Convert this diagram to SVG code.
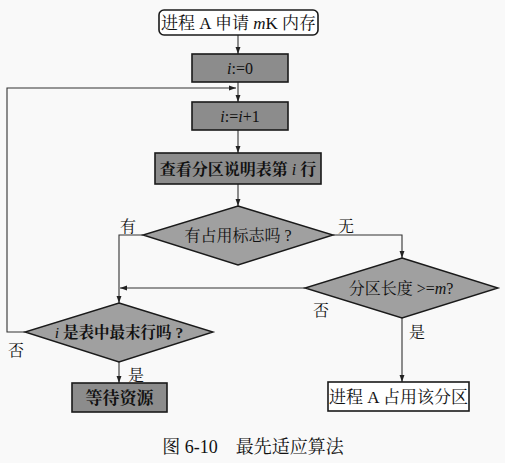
<svg xmlns="http://www.w3.org/2000/svg" width="505" height="463" viewBox="0 0 505 463">
  <style>
    text { font-family: "Liberation Serif", "Noto Serif CJK SC", "Noto Sans CJK SC", serif; fill: #111; }
    .lbl { font-size: 16px; }
    .box { fill: #8c8c8c; stroke: #1a1a1a; stroke-width: 1.6; }
    .dia { fill: #a0a0a0; stroke: #1a1a1a; stroke-width: 1.4; }
    .plain { fill: #fff; stroke: #1a1a1a; stroke-width: 1.6; }
    .edge { fill: none; stroke: #333; stroke-width: 1.1; }
    .b { font-weight: bold; }
  </style>
  <defs>
    <marker id="arr" viewBox="0 0 10 10" refX="10" refY="5" markerWidth="7" markerHeight="7" orient="auto" markerUnits="userSpaceOnUse">
      <path d="M0,1.5 L10,5 L0,8.5 Z" fill="#222"/>
    </marker>
  </defs>
  <rect width="505" height="463" fill="#f9f9f9"/>

  <g id="connectors">
    <line class="edge" x1="238" y1="35" x2="238" y2="54" marker-end="url(#arr)"/>
    <line class="edge" x1="238" y1="82" x2="238" y2="102" marker-end="url(#arr)"/>
    <line class="edge" x1="238" y1="130" x2="238" y2="153" marker-end="url(#arr)"/>
    <line class="edge" x1="238" y1="184" x2="238" y2="206" marker-end="url(#arr)"/>
    <polyline class="edge" points="143,235 119,235 119,303" marker-end="url(#arr)"/>
    <polyline class="edge" points="333,235 402,235 402,258" marker-end="url(#arr)"/>
    <line class="edge" x1="305" y1="288" x2="120" y2="288" marker-end="url(#arr)"/>
    <polyline class="edge" points="25,332 7,332 7,88 236,88" marker-end="url(#arr)"/>
    <line class="edge" x1="119" y1="362" x2="119" y2="383" marker-end="url(#arr)"/>
    <line class="edge" x1="402" y1="318" x2="402" y2="382" marker-end="url(#arr)"/>
  </g>

  <g id="start">
    <rect class="plain" x="159" y="10" width="159" height="25" rx="5"/>
    <text x="238.5" y="28.5" font-size="17" text-anchor="middle">进程 A 申请 <tspan font-style="italic">m</tspan>K 内存</text>
  </g>
  <g id="init">
    <rect class="box" x="192" y="54" width="96" height="28"/>
    <text class="lbl" x="240" y="73.5" text-anchor="middle"><tspan font-style="italic">i</tspan>:=0</text>
  </g>
  <g id="inc">
    <rect class="box" x="192" y="102" width="96" height="28"/>
    <text class="lbl" x="240" y="121.5" text-anchor="middle"><tspan font-style="italic">i</tspan>:=<tspan font-style="italic">i</tspan>+1</text>
  </g>
  <g id="lookup">
    <rect class="box" x="155" y="153" width="166" height="31"/>
    <text class="lbl b" x="238" y="174.5" text-anchor="middle">查看分区说明表第 <tspan font-style="italic" font-weight="normal">i</tspan> 行</text>
  </g>
  <g id="occupied">
    <polygon class="dia" points="238,206 333,235 238,265 143,235"/>
    <text class="lbl" x="238" y="240.5" text-anchor="middle">有占用标志吗 ?</text>
  </g>
  <g id="size">
    <polygon class="dia" points="402,258 498,288 402,318 305,288"/>
    <text class="lbl" x="401" y="293.5" text-anchor="middle">分区长度 &gt;=<tspan font-style="italic">m</tspan>?</text>
  </g>
  <g id="last">
    <polygon class="dia" points="119,303 213,332 119,362 25,332"/>
    <text class="b" font-size="15.5" x="119" y="337.5" text-anchor="middle"><tspan font-style="italic" font-weight="normal">i</tspan> 是表中最末行吗 ?</text>
  </g>
  <g id="wait">
    <rect class="box" x="72" y="383" width="95" height="29"/>
    <text class="b" font-size="17" x="119.5" y="403.5" text-anchor="middle">等待资源</text>
  </g>
  <g id="allocate">
    <rect class="plain" x="328" y="382" width="141" height="29"/>
    <text x="398.5" y="402.5" font-size="17" text-anchor="middle">进程 A 占用该分区</text>
  </g>

  <g id="edge-labels">
    <text class="lbl" x="120" y="232">有</text>
    <text class="lbl" x="338" y="232">无</text>
    <text class="lbl" x="313" y="316">否</text>
    <text class="lbl" x="8" y="356">否</text>
    <text class="lbl" x="128" y="381">是</text>
    <text class="lbl" x="409" y="338">是</text>
  </g>

  <text x="253" y="453" font-size="18" text-anchor="middle" xml:space="preserve">图 6-10    最先适应算法</text>
</svg>
